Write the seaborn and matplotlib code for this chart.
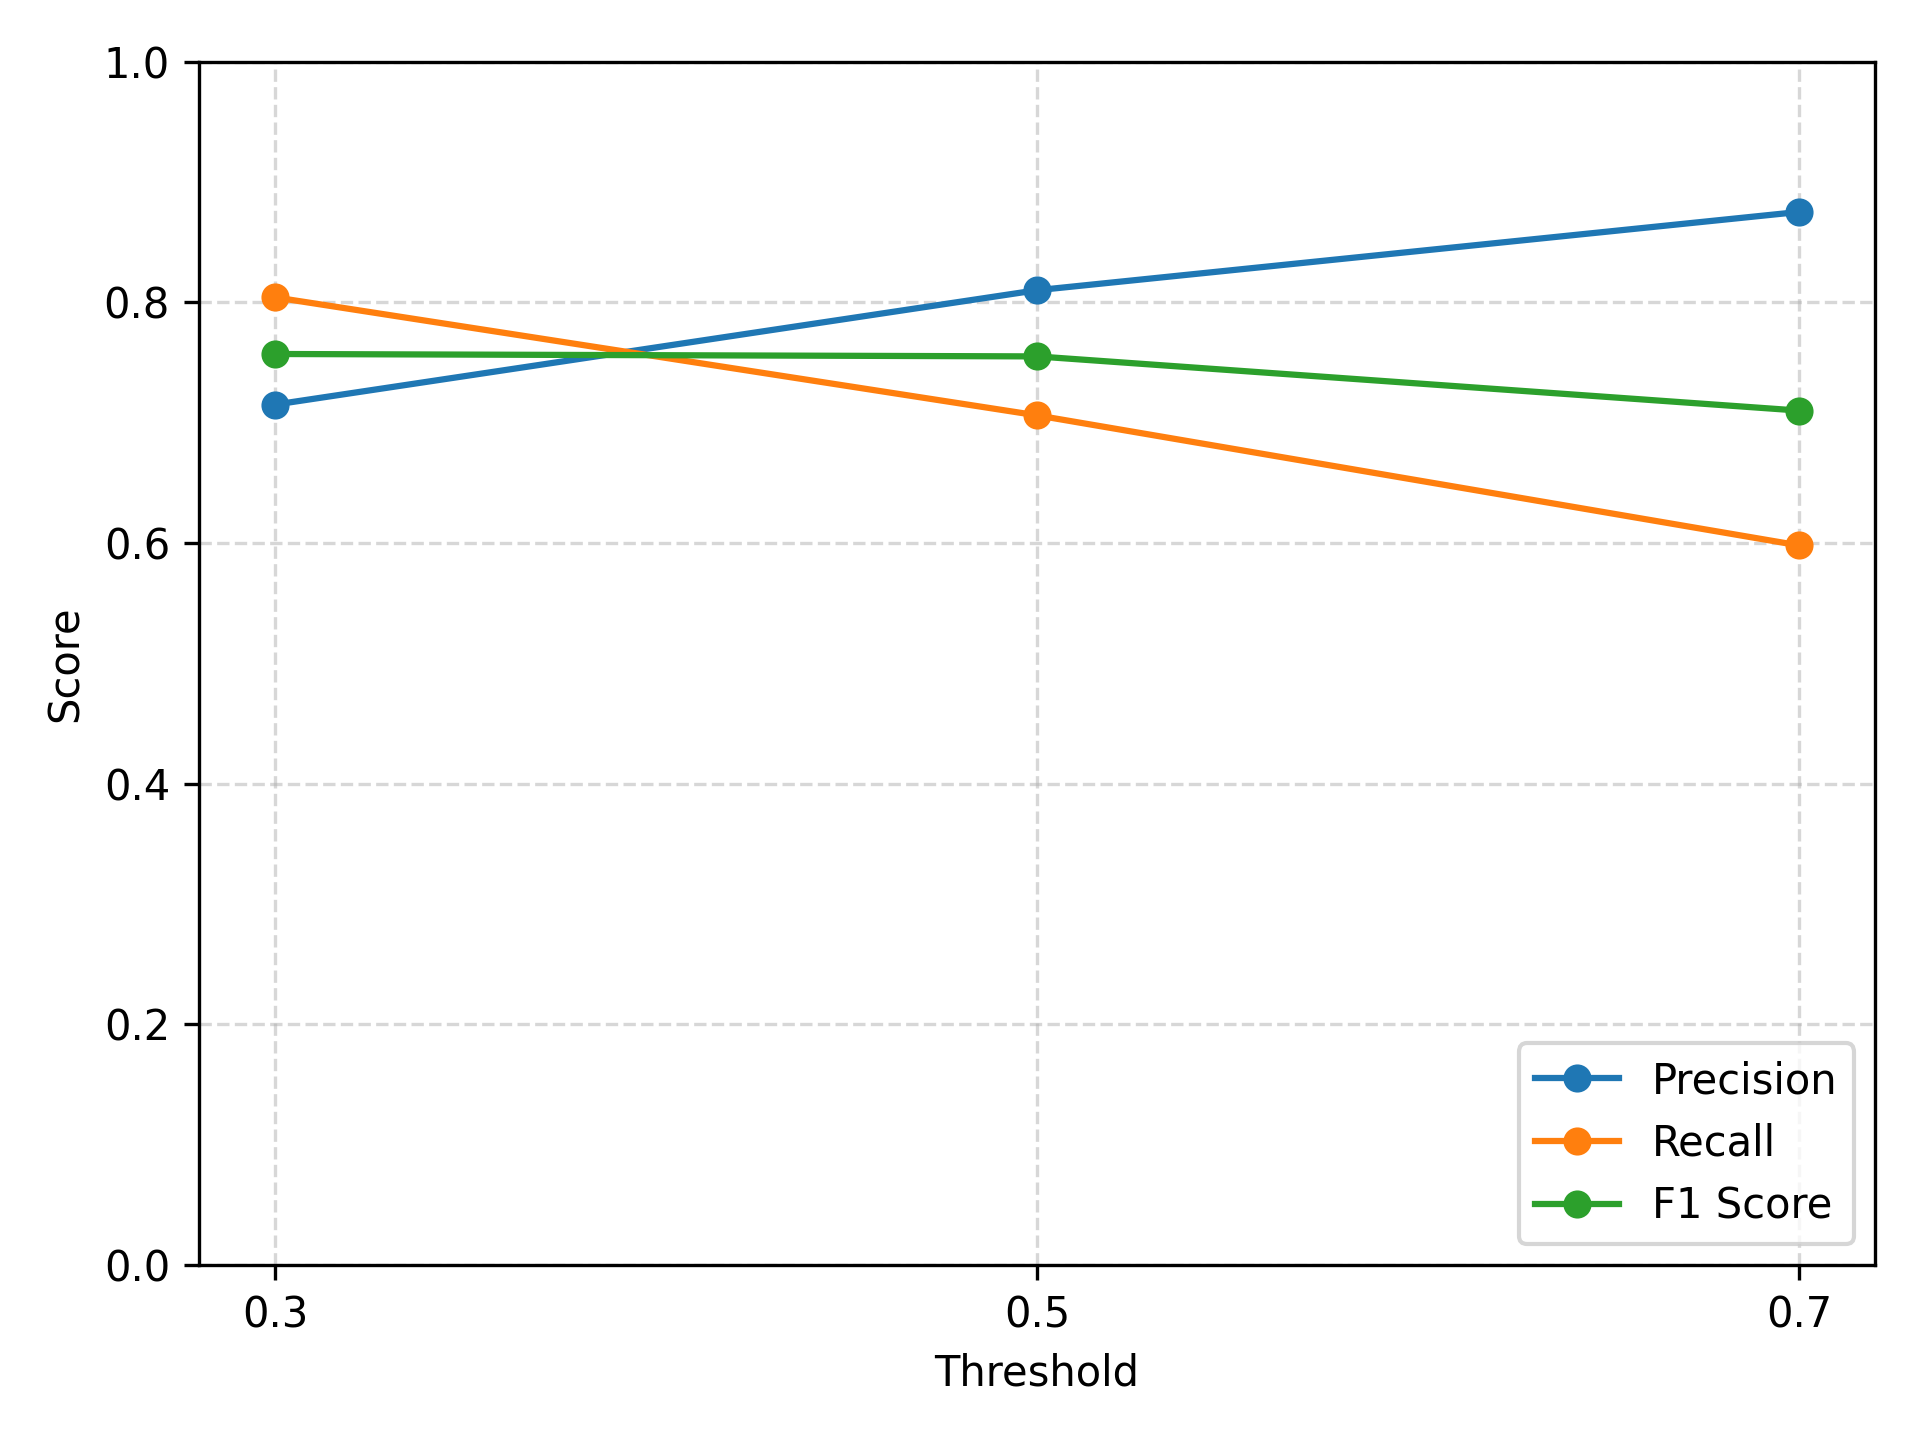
import matplotlib
matplotlib.use("Agg")
import matplotlib.pyplot as plt
import seaborn as sns
import pandas as pd

thresholds = [0.3, 0.5, 0.7]
precision = [0.715, 0.810, 0.875]
recall = [0.804, 0.706, 0.598]
f1 = [0.757, 0.755, 0.710]
series_names = ["Precision", "Recall", "F1 Score"]
colors = ["#1f77b4", "#ff7f0e", "#2ca02c"]

fig, ax = plt.subplots(figsize=(6.4, 4.8), dpi=300)
for name, vals, c in zip(series_names, [precision, recall, f1], colors):
    df = pd.DataFrame({"Threshold": thresholds, "Score": vals})
    sns.lineplot(data=df, x="Threshold", y="Score", marker="o", color=c,
                 markeredgecolor=c, markersize=6, linewidth=1.5, label=name, ax=ax)

ax.set_ylim(0, 1.0)
ax.set_xticks(thresholds)
ax.set_xticklabels(["0.3", "0.5", "0.7"])
ax.set_xlabel("Threshold")
ax.set_ylabel("Score")
ax.grid(True, linestyle="--", alpha=0.5)
ax.legend(loc="lower right")
fig.tight_layout()
fig.savefig("out.png", dpi=300)
